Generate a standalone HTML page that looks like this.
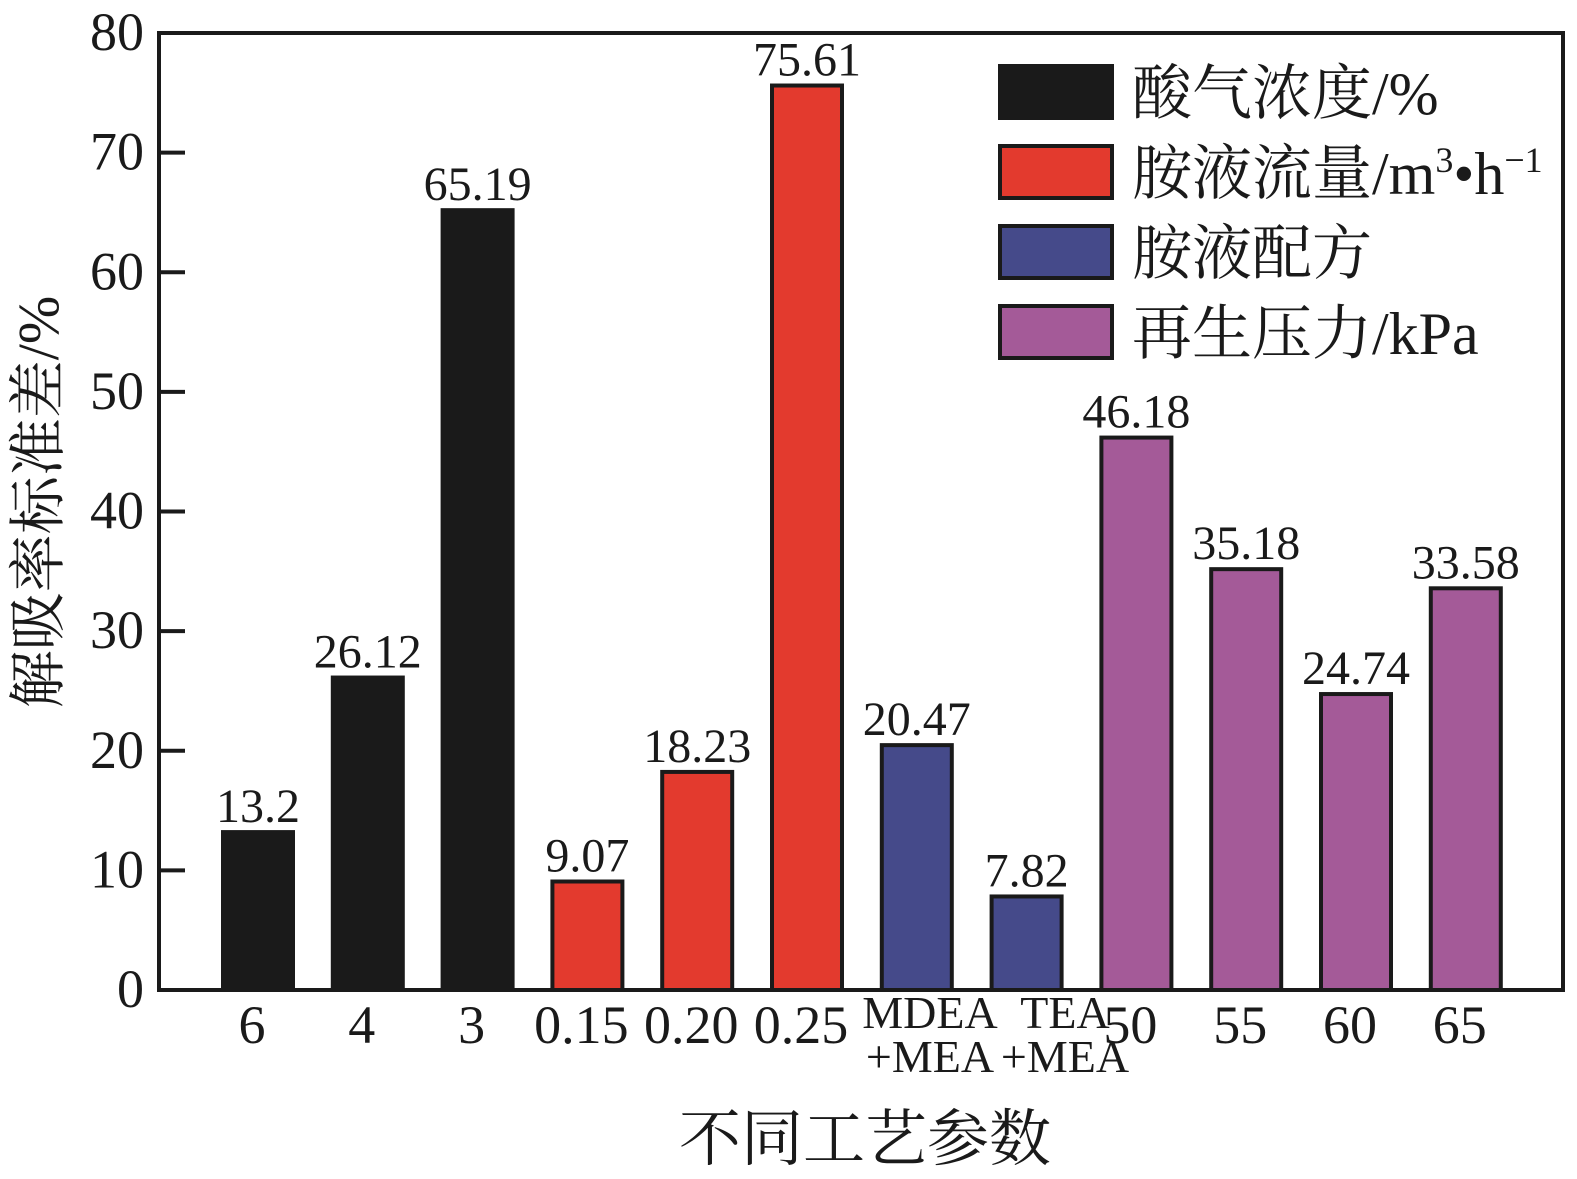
<!DOCTYPE html>
<html><head><meta charset="utf-8"><style>
body{margin:0;background:#fff}
svg text{font-family:"Liberation Serif","Noto Serif CJK SC",serif;fill:#1a1a1a}
</style></head><body>
<svg width="1577" height="1174" viewBox="0 0 1577 1174">
<g id="bars"></g>
<g id="yaxis"></g>
<g id="xaxis"></g>
<rect x="159" y="33" width="1404" height="957" fill="none" stroke="#1a1a1a" stroke-width="4"/>
<text x="865" y="1160" font-size="62" text-anchor="middle">不同工艺参数</text>
<text transform="translate(58,502) rotate(-90)" font-size="58" text-anchor="middle">解吸率标准差/%</text>
<g>
<g><rect x="1000" y="66" width="112" height="52" fill="#1a1a1a" stroke="#1a1a1a" stroke-width="4"/><text x="1132" y="114" font-size="60">酸气浓度/%</text></g>
<g><rect x="1000" y="146" width="112" height="52" fill="#e33a2e" stroke="#1a1a1a" stroke-width="4"/><text x="1132" y="194" font-size="60">胺液流量/m<tspan font-size="36" dy="-22">3</tspan><tspan dy="22">•h</tspan><tspan font-size="36" dy="-22">−1</tspan></text></g>
<g><rect x="1000" y="226" width="112" height="52" fill="#454a8a" stroke="#1a1a1a" stroke-width="4"/><text x="1132" y="274" font-size="60">胺液配方</text></g>
<g><rect x="1000" y="306" width="112" height="52" fill="#a45a98" stroke="#1a1a1a" stroke-width="4"/><text x="1132" y="354" font-size="60">再生压力/kPa</text></g>
</g>
</svg>
<script>
const categories=["6","4","3","0.15","0.20","0.25","MDEA\n+MEA","TEA\n+MEA","50","55","60","65"];
const values=[13.2,26.12,65.19,9.07,18.23,75.61,20.47,7.82,46.18,35.18,24.74,33.58];
const valueLabels=["13.2","26.12","65.19","9.07","18.23","75.61","20.47","7.82","46.18","35.18","24.74","33.58"];
const groups=[0,0,0,1,1,1,2,2,3,3,3,3];
const yTicks=[0,10,20,30,40,50,60,70,80];
const colors=["#1a1a1a","#e33a2e","#454a8a","#a45a98"];
const NS="http://www.w3.org/2000/svg";
const y=v=>990-v*(957/80);
const x=i=>258+i*109.8;
function mk(t,a,p){const e=document.createElementNS(NS,t);for(const k in a)e.setAttribute(k,a[k]);p.appendChild(e);return e;}
const bars=document.getElementById('bars');
values.forEach((v,i)=>{
 const r=mk('rect',{x:x(i)-35,y:y(v),width:70,height:990-y(v),fill:colors[groups[i]],stroke:'#1a1a1a','stroke-width':4},bars);
 
 
 const t=mk('text',{x:x(i),y:y(v)-10,'font-size':48,'text-anchor':'middle'},bars);
 t.textContent=valueLabels[i];
 
 
});
const ya=document.getElementById('yaxis');
yTicks.forEach(v=>{
 const l=mk('line',{x1:159,x2:185,y1:y(v),y2:y(v),stroke:'#1a1a1a','stroke-width':4},ya);
 
 
 const t=mk('text',{x:144,y:y(v)+17,'font-size':54,'text-anchor':'end'},ya);
 t.textContent=v;
 
 
});
const xa=document.getElementById('xaxis');
categories.forEach((c,i)=>{
 const parts=c.split("\n");
 const two=parts.length>1;
 const cx=two?(i===6?930:1065):x(i)-6;
 const t=mk('text',{x:cx,y:two?1028:1043,'font-size':two?46:54,'text-anchor':'middle'},xa);
 
 
 parts.forEach((p,j)=>{const s=mk('tspan',{x:cx,dy:j?44:0},t);s.textContent=p;});
});
</script>
</body></html>
